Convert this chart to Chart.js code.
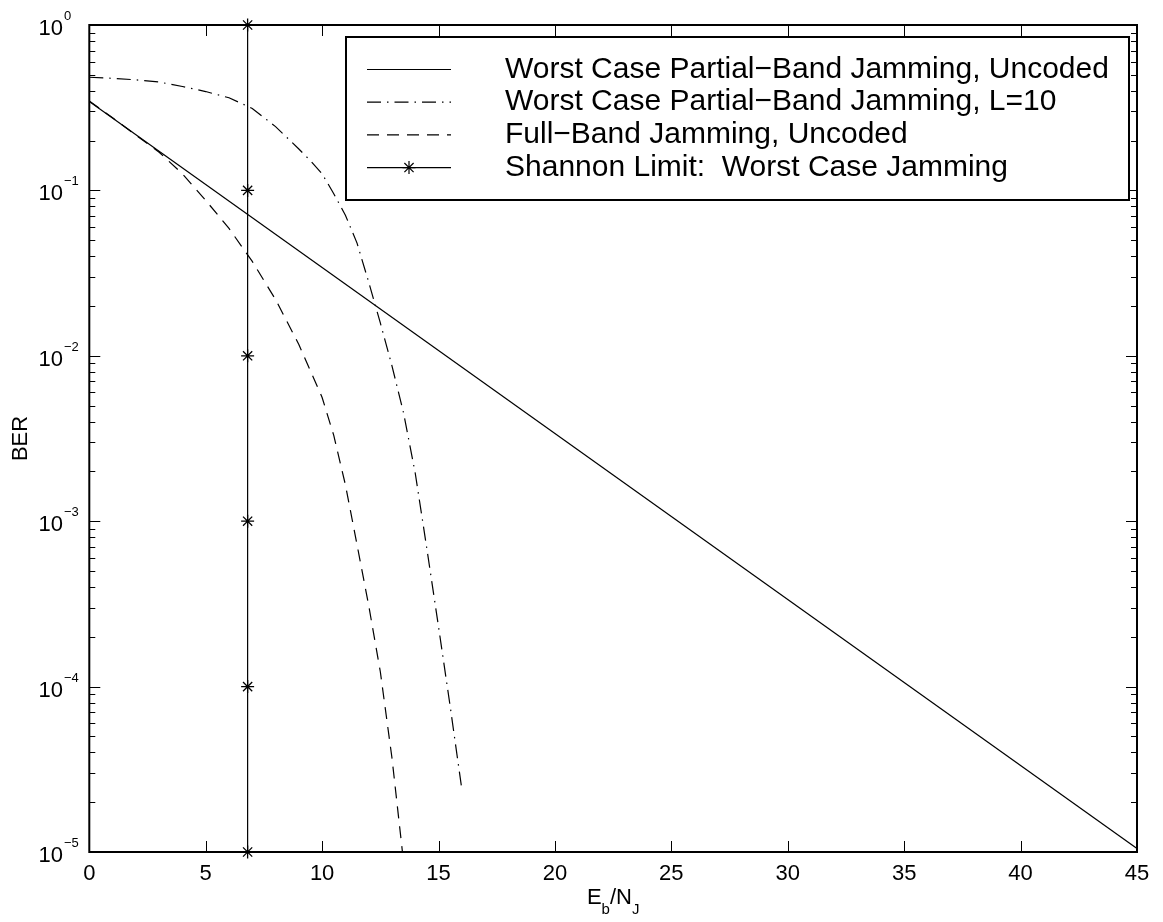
<!DOCTYPE html>
<html>
<head>
<meta charset="utf-8">
<script src="https://cdn.jsdelivr.net/npm/chart.js@4.4.1/dist/chart.umd.min.js"></script>
<style>
  html, body { margin: 0; padding: 0; background: #fff; }
</style>
</head>
<body>
<canvas id="berChart" width="1163" height="922"></canvas>
<script>
// values (x in dB, y = BER)
const seriesNames = [
  "Worst Case Partial\u2212Band Jamming, Uncoded",
  "Worst Case Partial\u2212Band Jamming, L=10",
  "Full\u2212Band Jamming, Uncoded",
  "Shannon Limit:  Worst Case Jamming"
];
const pbjUncodedX = [0, 45];
const pbjUncodedBER = [0.345, 1.05e-5];

const pbjCodedX = [0, 1, 2, 3, 4, 5, 6, 7, 8, 9, 9.5, 10, 10.5, 11, 11.5, 12, 12.5,
                   13, 13.5, 14, 14.5, 15, 15.5, 16];
const pbjCodedBER = [0.483, 0.476, 0.466, 0.452, 0.425, 0.396, 0.363, 0.313, 0.243, 0.178, 0.151,
                     0.126, 0.0955, 0.0708, 0.048, 0.0279, 0.0158, 0.0087, 0.0045, 0.00195, 6.8e-4,
                     2.3e-4, 7.6e-5, 2.4e-5];

const fullBandX = [0, 1, 2, 3, 4, 5, 6, 7, 8, 9, 10, 10.5, 11, 11.5, 12, 12.5, 13, 13.45];
const fullBandBER = [0.347, 0.275, 0.216, 0.17, 0.126, 0.087, 0.0589, 0.0372, 0.0219, 0.0117,
                     0.0056, 0.0033, 0.00166, 7.2e-4, 3.1e-4, 1.23e-4, 3.7e-5, 1e-5];

const shannonX = [6.8, 6.8, 6.8, 6.8, 6.8, 6.8];
const shannonBER = [1, 0.1, 0.01, 1e-3, 1e-4, 1e-5];

const xTicks = [0, 5, 10, 15, 20, 25, 30, 35, 40, 45];
const yDecades = [0, -1, -2, -3, -4, -5];

const FONT = "'Liberation Sans', Arial, Helvetica, sans-serif";
const pts = (xs, ys) => xs.map((x, i) => ({ x: x, y: ys[i] }));

function seg(ctx, x1, y1, x2, y2) {
  ctx.beginPath();
  ctx.moveTo(x1, y1);
  ctx.lineTo(x2, y2);
  ctx.stroke();
}

// MATLAB style box, inside ticks, tick labels with exponents, axis titles, legend
const matlabAxes = {
  id: "matlabAxes",
  afterDraw(chart) {
    const ctx = chart.ctx;
    const a = chart.chartArea;
    const xs = chart.scales.x, ys = chart.scales.y;
    ctx.save();
    ctx.strokeStyle = "#000";
    ctx.fillStyle = "#000";

    // ticks
    ctx.lineWidth = 1;
    xTicks.forEach(v => {
      const px = Math.round(xs.getPixelForValue(v)) + 0.5;
      seg(ctx, px, a.bottom, px, a.bottom - 11);
      seg(ctx, px, a.top, px, a.top + 11);
    });
    yDecades.forEach(k => {
      const py = Math.round(ys.getPixelForValue(Math.pow(10, k))) + 0.5;
      seg(ctx, a.left, py, a.left + 11, py);
      seg(ctx, a.right, py, a.right - 11, py);
      if (k > -5) {
        for (let m = 2; m <= 9; m++) {
          const my = Math.round(ys.getPixelForValue(m * Math.pow(10, k - 1))) + 0.5;
          seg(ctx, a.left, my, a.left + 6, my);
          seg(ctx, a.right, my, a.right - 6, my);
        }
      }
    });

    // box
    ctx.lineWidth = 2;
    ctx.strokeRect(a.left, a.top, a.right - a.left, a.bottom - a.top);

    // y tick labels 10^k
    yDecades.forEach(k => {
      const py = ys.getPixelForValue(Math.pow(10, k));
      ctx.textBaseline = "alphabetic";
      ctx.font = "22px " + FONT;
      ctx.textAlign = "right";
      ctx.fillText("10", 63, py + 10);
      ctx.font = "13px " + FONT;
      ctx.textAlign = "left";
      ctx.fillText(k === 0 ? "0" : "\u2212" + (-k), 64, py - 5);
    });

    // y title
    ctx.save();
    ctx.translate(27, (a.top + a.bottom) / 2);
    ctx.rotate(-Math.PI / 2);
    ctx.font = "22px " + FONT;
    ctx.textAlign = "center";
    ctx.textBaseline = "alphabetic";
    ctx.fillText("BER", 0, 0);
    ctx.restore();

    // x title  E_b/N_J
    const parts = [["E", 22, 0], ["b", 15, 10], ["/N", 22, 0], ["J", 15, 10]];
    let total = 0;
    parts.forEach(p => { ctx.font = p[1] + "px " + FONT; total += ctx.measureText(p[0]).width; });
    let tx = (a.left + a.right) / 2 - total / 2;
    ctx.textAlign = "left";
    parts.forEach(p => {
      ctx.font = p[1] + "px " + FONT;
      ctx.fillText(p[0], tx, 904 + p[2]);
      tx += ctx.measureText(p[0]).width;
    });

    // legend
    const lx = 346, ly = 37, lw = 783, lh = 163;
    ctx.fillStyle = "#fff";
    ctx.fillRect(lx, ly, lw, lh);
    ctx.lineWidth = 2;
    ctx.strokeRect(lx, ly, lw, lh);
    ctx.fillStyle = "#000";
    ctx.font = "30px " + FONT;
    ctx.textBaseline = "middle";
    chart.data.datasets.forEach((ds, i) => {
      const ry = 69.5 + i * 32.7;
      ctx.lineWidth = 1.2;
      ctx.setLineDash(ds.borderDash || []);
      seg(ctx, 367, ry, 451, ry);
      ctx.setLineDash([]);
      if (ds.pointRadius > 0) {
        Chart.helpers.drawPoint(ctx, { pointStyle: ds.pointStyle, radius: ds.pointRadius, borderWidth: 1.3, rotation: 0 }, 409, ry);
      }
      ctx.fillText(ds.label, 505, ry);
    });
    ctx.restore();
  }
};

const datasets = [
  { label: seriesNames[0], data: pts(pbjUncodedX, pbjUncodedBER), borderDash: [] },
  { label: seriesNames[1], data: pts(pbjCodedX, pbjCodedBER), borderDash: [14, 6, 1.5, 6] },
  { label: seriesNames[2], data: pts(fullBandX, fullBandBER), borderDash: [12, 8] },
  { label: seriesNames[3], data: pts(shannonX, shannonBER), borderDash: [], pointStyle: "star", pointRadius: 6.5 }
].map(d => Object.assign({
  showLine: true,
  borderColor: "#000",
  backgroundColor: "#000",
  borderWidth: 1.2,
  pointRadius: 0,
  pointBorderColor: "#000",
  pointBorderWidth: 1.3,
  tension: 0,
  clip: false
}, d));

new Chart(document.getElementById("berChart"), {
  type: "scatter",
  data: { datasets: datasets },
  options: {
    responsive: false,
    animation: false,
    devicePixelRatio: 1,
    layout: { padding: { left: 0, top: 25, right: 26, bottom: 0 } },
    plugins: { legend: { display: false }, tooltip: { enabled: false } },
    scales: {
      x: {
        type: "linear",
        min: 0, max: 45,
        grid: { display: false, drawTicks: false },
        border: { display: false },
        ticks: {
          stepSize: 5, autoSkip: false, maxRotation: 0, padding: 9,
          color: "#000", font: { family: FONT, size: 22 }
        },
        afterFit: s => { s.height = 70; }
      },
      y: {
        type: "logarithmic",
        min: 1e-5, max: 1,
        grid: { display: false, drawTicks: false },
        border: { display: false },
        ticks: { display: false },
        afterFit: s => { s.width = 89.3; }
      }
    }
  },
  plugins: [matlabAxes]
});
</script>
</body>
</html>
